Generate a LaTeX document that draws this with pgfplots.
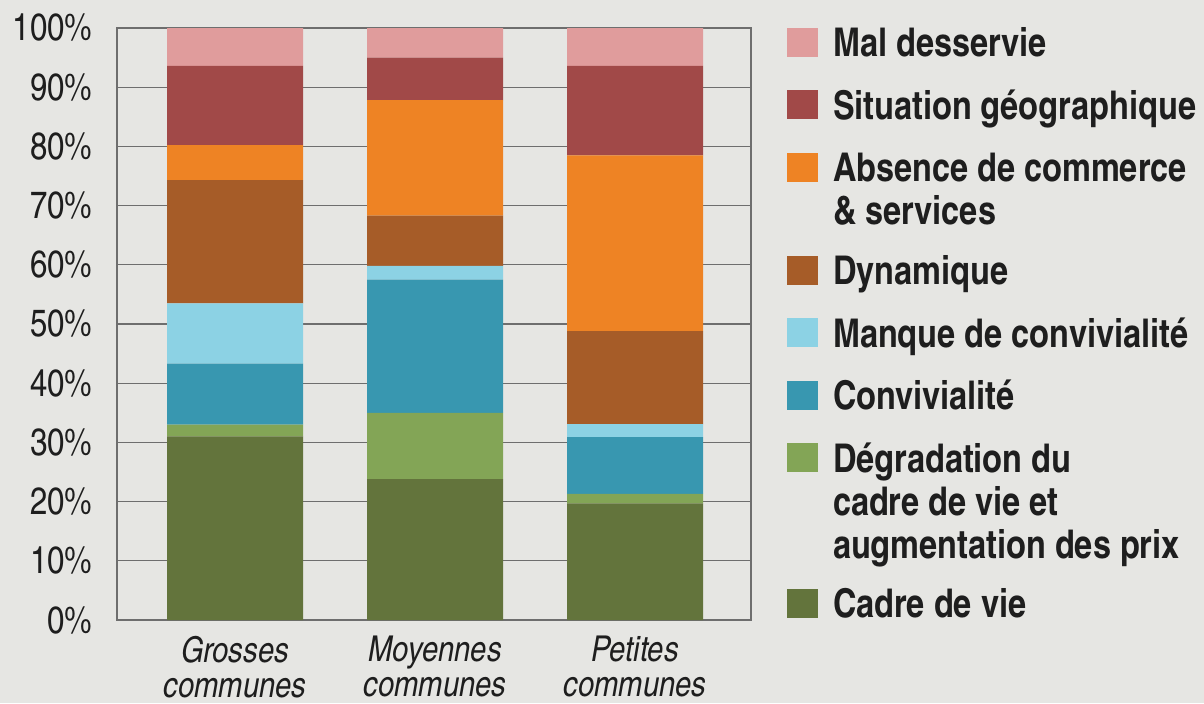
\documentclass[border=0pt]{standalone}
\usepackage{fontspec}
\setmainfont{texgyreheroscn}[Extension=.otf,UprightFont=*-regular,BoldFont=*-bold,ItalicFont=*-italic,BoldItalicFont=*-bolditalic]
\usepackage{pgfplots}
\pgfplotsset{compat=1.18}

\definecolor{bg}{RGB}{230,230,227}
\definecolor{cMal}{RGB}{224,156,156}
\definecolor{cSit}{RGB}{161,73,72}
\definecolor{cAbs}{RGB}{238,131,36}
\definecolor{cDyn}{RGB}{166,92,40}
\definecolor{cMan}{RGB}{140,210,228}
\definecolor{cCon}{RGB}{56,151,176}
\definecolor{cDeg}{RGB}{131,165,86}
\definecolor{cCad}{RGB}{99,116,60}
\definecolor{gridc}{RGB}{110,110,110}
\definecolor{txt}{RGB}{30,30,30}

% legend entry: first line carries the baseline
\newcommand{\lgd}[1]{\begin{tabular}[t]{@{}l@{}}#1\end{tabular}}

\begin{document}
\begin{tikzpicture}
\fill[bg] (-58.5pt,-41.5pt) rectangle (543.5pt,310pt);
\useasboundingbox (-58.5pt,-41.5pt) rectangle (543.5pt,310pt);
\begin{axis}[
  ybar stacked,
  bar width=68pt,
  scale only axis,
  width=317pt, height=296pt,
  xmin=-0.59, xmax=2.58,
  ymin=0, ymax=100,
  axis line style={draw=gridc, line width=0.7pt},
  ymajorgrids,
  grid style={gridc, line width=0.6pt},
  major tick length=0pt,
  xtick={0,1,2},
  xticklabels={Grosses\\communes,Moyennes\\communes,Petites\\communes},
  xticklabel style={align=center, font=\itshape\fontsize{17.8}{17.5}\selectfont,
    inner sep=0pt, yshift=-8pt, text=txt},
  ytick={0,10,20,30,40,50,60,70,80,90,100},
  yticklabels={0\%,10\%,20\%,30\%,40\%,50\%,60\%,70\%,80\%,90\%,100\%},
  yticklabel style={font=\fontsize{19}{22}\selectfont, inner sep=0pt,
    xshift=-12pt, text=txt},
  reverse legend,
  legend image code/.code={\fill[#1,draw=none] (0pt,0pt) rectangle (15.5pt,14.5pt);},
  legend style={draw=none, fill=none, at={(1.0568,1.0024)}, anchor=north west,
    inner sep=0pt, outer sep=0pt, row sep=14.7pt, column sep=7.5pt,
    nodes={inner sep=0pt, text=txt},
    cells={anchor=base west},
    font=\bfseries\fontsize{19.8}{21.5}\selectfont},
]
\addplot[fill=cCad, draw=none] coordinates {(0,31) (1,23.8) (2,19.7)};
\addlegendentry{\lgd{\rule{0pt}{56.5pt}Cadre de vie}}
\addplot[fill=cDeg, draw=none] coordinates {(0,2) (1,11.2) (2,1.6)};
\addlegendentry{\lgd{Dégradation du\\cadre de vie et\\augmentation des prix}}
\addplot[fill=cCon, draw=none] coordinates {(0,10.3) (1,22.5) (2,9.6)};
\addlegendentry{\lgd{Convivialité}}
\addplot[fill=cMan, draw=none] coordinates {(0,10.2) (1,2.3) (2,2.2)};
\addlegendentry{\lgd{Manque de convivialité}}
\addplot[fill=cDyn, draw=none] coordinates {(0,20.8) (1,8.5) (2,15.7)};
\addlegendentry{\lgd{\rule{0pt}{35.3pt}Dynamique}}
\addplot[fill=cAbs, draw=none] coordinates {(0,5.9) (1,19.5) (2,29.7)};
\addlegendentry{\lgd{Absence de commerce\\\& services}}
\addplot[fill=cSit, draw=none] coordinates {(0,13.4) (1,7.2) (2,15.1)};
\addlegendentry{\lgd{Situation géographique}}
\addplot[fill=cMal, draw=none] coordinates {(0,6.4) (1,5) (2,6.4)};
\addlegendentry{\lgd{Mal desservie}}
\end{axis}
\end{tikzpicture}
\end{document}
